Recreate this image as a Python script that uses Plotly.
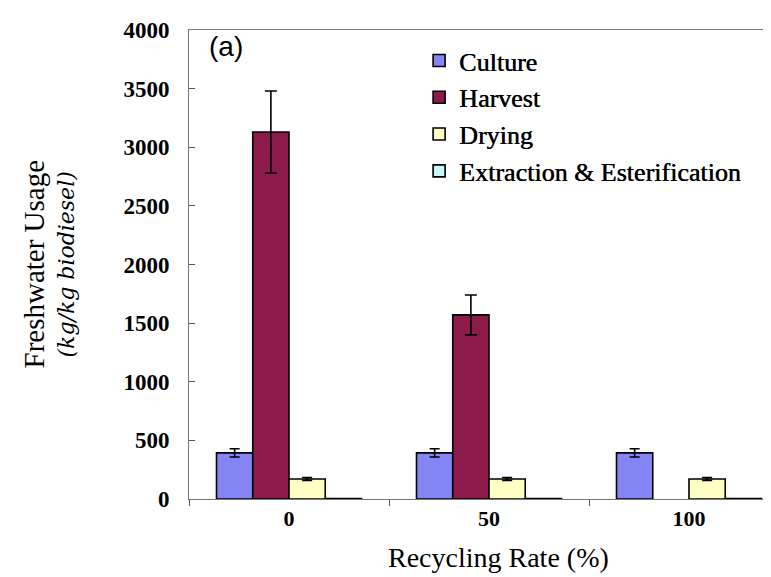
import plotly.graph_objects as go

categories = ["0", "50", "100"]
series_names = ["Culture", "Harvest", "Drying", "Extraction & Esterification"]
culture = [393, 393, 393]
culture_err = [35, 35, 35]
harvest = [3130, 1570, None]
harvest_err = [350, 170, None]
drying = [171, 171, 171]
drying_err = [12, 12, 12]
extraction = [3, 3, 3]
extraction_err = [0, 0, 0]
y_ticks = [0, 500, 1000, 1500, 2000, 2500, 3000, 3500, 4000]

colors = ["#8585F5", "#8C1A4B", "#FFFFC4", "#C8F7F7"]
values = [culture, harvest, drying, extraction]
errors = [culture_err, harvest_err, drying_err, extraction_err]
err_widths = [5, 6, 5, 0]

SERIF = "Liberation Serif"
SERIF_B = "Times New Roman"

fig = go.Figure()
for name, vals, errs, col, ew in zip(series_names, values, errors, colors, err_widths):
    fig.add_trace(go.Bar(
        name=name, x=categories, y=vals,
        marker=dict(color=col, line=dict(color="black", width=1.6)),
        error_y=dict(type="data", array=errs, visible=True, color="black",
                     thickness=1.6, width=ew),
    ))

fig.update_layout(
    width=771, height=577,
    margin=dict(l=181, r=0, t=22, b=86),
    paper_bgcolor="white", plot_bgcolor="white",
    barmode="group", bargap=0.275, bargroupgap=0,
    showlegend=True,
    legend=dict(x=0.39, y=0.985, xanchor="left", yanchor="top",
                font=dict(family=SERIF, size=26, color="black",
                          shadow="0.5px 0 0 black"),
                bgcolor="rgba(0,0,0,0)", itemwidth=30, tracegroupgap=0),
    xaxis=dict(type="category", categoryorder="array", categoryarray=categories,
               range=[-0.5, 2.45], tickson="boundaries", ticks="outside", ticklen=6,
               tickcolor="#555", showline=True, linecolor="#777", linewidth=1,
               mirror=True, showgrid=False, zeroline=False,
               tickfont=dict(family=SERIF_B, size=22, color="black", weight="bold")),
    yaxis=dict(range=[0, 4000], tickvals=y_ticks, ticks="inside", ticklen=6,
               tickcolor="#555", showline=True, linecolor="#777", linewidth=1,
               showgrid=False, zeroline=False, ticklabelstandoff=14,
               tickfont=dict(family=SERIF_B, size=23, color="black", weight="bold")),
    annotations=[
        dict(text="Recycling Rate (%)", xref="paper", yref="paper", x=0.524, y=0,
             yshift=-58, xanchor="center", yanchor="middle", showarrow=False,
             font=dict(family=SERIF, size=28, color="black")),
        dict(text="Freshwater Usage", xref="paper", yref="paper", x=0, y=0.5,
             xshift=-156, xanchor="center", yanchor="middle", textangle=-90,
             showarrow=False, font=dict(family=SERIF, size=29, color="black")),
        dict(text="(kg/kg biodiesel)", xref="paper", yref="paper", x=0, y=0.5,
             xshift=-123, xanchor="center", yanchor="middle", textangle=-90,
             showarrow=False,
             font=dict(family="DejaVu Serif", size=22, color="black", style="italic")),
        dict(text="(a)", xref="paper", yref="paper", x=0, y=1, xshift=18, yshift=-16,
             xanchor="left", yanchor="middle", showarrow=False,
             font=dict(family="Liberation Sans", size=28, color="black")),
    ],
)

fig.write_html("out.html")
